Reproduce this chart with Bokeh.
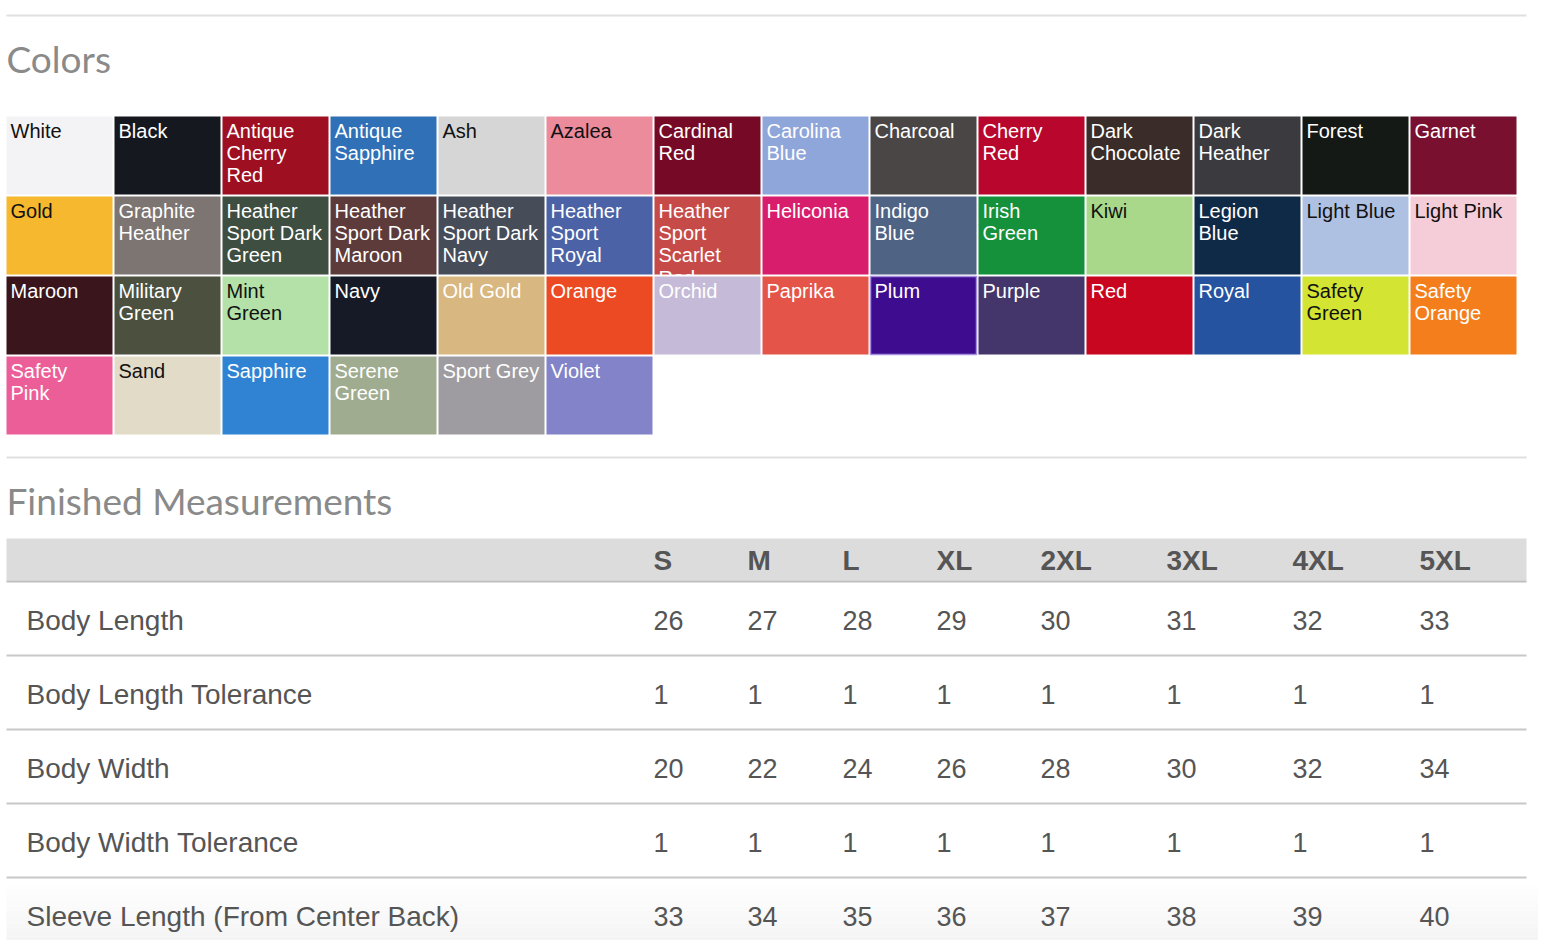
from bokeh.plotting import figure
from bokeh.models import Range1d, ColumnDataSource
from bokeh.core.properties import value
from bokeh.embed import file_html
from bokeh.resources import INLINE

# ---------------- data ----------------
color_labels = [
    "White", "Black", "Antique\nCherry\nRed", "Antique\nSapphire", "Ash", "Azalea",
    "Cardinal\nRed", "Carolina\nBlue", "Charcoal", "Cherry\nRed", "Dark\nChocolate",
    "Dark\nHeather", "Forest", "Garnet",
    "Gold", "Graphite\nHeather", "Heather\nSport Dark\nGreen", "Heather\nSport Dark\nMaroon",
    "Heather\nSport Dark\nNavy", "Heather\nSport\nRoyal", "Heather\nSport\nScarlet\nRed",
    "Heliconia", "Indigo\nBlue", "Irish\nGreen", "Kiwi", "Legion\nBlue", "Light Blue", "Light Pink",
    "Maroon", "Military\nGreen", "Mint\nGreen", "Navy", "Old Gold", "Orange", "Orchid",
    "Paprika", "Plum", "Purple", "Red", "Royal", "Safety\nGreen", "Safety\nOrange",
    "Safety\nPink", "Sand", "Sapphire", "Serene\nGreen", "Sport Grey", "Violet",
]
color_hex = [
    "#f3f3f5", "#15181f", "#9e0f22", "#2f70b6", "#d6d6d6", "#ec8b9c",
    "#760a26", "#8fa6da", "#4a4646", "#b8062c", "#3a2c28",
    "#3b3b3f", "#141916", "#7a1030",
    "#f6b82e", "#7c7572", "#3e4e40", "#5d3b3a",
    "#474c59", "#4b62a6", "#c64b48",
    "#d81d6d", "#4f6385", "#15903b", "#a9d88b", "#0f2a47", "#afc1e2", "#f5cdd8",
    "#3a151c", "#4c513f", "#b3e1a7", "#161a27", "#d8b780", "#ec4a23", "#c5bbd8",
    "#e45448", "#3e0c8e", "#44366a", "#c8061f", "#2553a0", "#d3e433", "#f47e1c",
    "#ec5e98", "#e2dbc8", "#2f83d2", "#a0ac90", "#9e9ca0", "#8283c8",
]
dark_text = [
    "White", "Ash", "Azalea", "Gold", "Kiwi", "Light Blue", "Light Pink",
    "Mint\nGreen", "Safety\nGreen", "Sand",
]

sizes = ["S", "M", "L", "XL", "2XL", "3XL", "4XL", "5XL"]
measure_names = ["Body Length", "Body Length Tolerance", "Body Width",
                 "Body Width Tolerance", "Sleeve Length (From Center Back)"]
body_length = [26, 27, 28, 29, 30, 31, 32, 33]
body_length_tol = [1, 1, 1, 1, 1, 1, 1, 1]
body_width = [20, 22, 24, 26, 28, 30, 32, 34]
body_width_tol = [1, 1, 1, 1, 1, 1, 1, 1]
sleeve_length = [33, 34, 35, 36, 37, 38, 39, 40]
measure_values = [body_length, body_length_tol, body_width, body_width_tol, sleeve_length]

# ---------------- layout ----------------
W, H = 1538, 940
p = figure(width=W, height=H, x_range=Range1d(0, W), y_range=Range1d(H, 0),
           output_backend="svg", toolbar_location=None, min_border=0)
p.axis.visible = False
p.grid.visible = False
p.outline_line_color = None
p.background_fill_color = "white"
p.border_fill_color = "white"

LEFT, RIGHT = 6, 1526
GRAY_TITLE = "#8a8a8a"
TXT = "#555555"

# bottom fade
nb = 14
fade_top, fade_bot = 880, H
bh = (fade_bot - fade_top) / nb
fade_cols = []
for i in range(nb):
    g = 255 - int(11 * (i + 1) / nb)
    fade_cols.append("#%02x%02x%02x" % (g, g, g))
p.quad(left=[LEFT] * nb, right=[W] * nb,
       top=[fade_top + i * bh for i in range(nb)],
       bottom=[fade_top + (i + 1) * bh for i in range(nb)],
       fill_color=fade_cols, line_color=None)

# separators and titles
p.segment(x0=[LEFT, LEFT], x1=[RIGHT, RIGHT], y0=[15, 457], y1=[15, 457],
          line_color="#e0e0e0", line_width=2)
p.text(x=[6, 6], y=[58, 500], text=["Colors", "Finished Measurements"],
       text_font=value("Lato"), text_font_size="37px", text_color=GRAY_TITLE,
       text_baseline="middle", text_align="left")

# swatches
NCOL = 14
PITCH_X, PITCH_Y = 108, 80
SW, SH = 106, 78
GX, GY = 6, 116
n = len(color_labels)
cols = [i % NCOL for i in range(n)]
rows = [i // NCOL for i in range(n)]
for r in sorted(set(rows)):
    idx = [i for i in range(n) if rows[i] == r]
    src = ColumnDataSource(dict(
        left=[GX + cols[i] * PITCH_X for i in idx],
        right=[GX + cols[i] * PITCH_X + SW for i in idx],
        top=[GY + r * PITCH_Y for i in idx],
        bottom=[GY + r * PITCH_Y + SH for i in idx],
        color=[color_hex[i] for i in idx],
        border=["#a68fe0" if color_labels[i] == "Plum" else "rgba(0,0,0,0)" for i in idx],
        label=[color_labels[i] for i in idx],
        tx=[GX + cols[i] * PITCH_X + 4 for i in idx],
        ty=[GY + r * PITCH_Y + 3 for i in idx],
        tc=["#111111" if color_labels[i] in dark_text else "#ffffff" for i in idx],
    ))
    p.quad(left="left", right="right", top="top", bottom="bottom", fill_color="color",
           line_color="border", line_width=1.5, source=src)
    p.text(x="tx", y="ty", text="label", text_color="tc", source=src,
           text_font=value("Liberation Sans"), text_font_size="20px",
           text_baseline="top", text_align="left", text_line_height=1.02)

# table header
p.quad(left=[LEFT], right=[RIGHT], top=[538], bottom=[580], fill_color="#dcdcdc", line_color=None)
p.segment(x0=[LEFT], x1=[RIGHT], y0=[581], y1=[581], line_color="#bdbdbd", line_width=2)
col_x = [653, 747, 842, 936, 1040, 1166, 1292, 1419]
p.text(x=col_x, y=[560] * len(sizes), text=sizes, text_font=value("Liberation Sans"),
       text_font_style="bold", text_font_size="28px", text_color="#555555",
       text_baseline="middle", text_align="left")

# table rows
ROW_Y0, ROW_PITCH = 620, 74
row_y = [ROW_Y0 + k * ROW_PITCH for k in range(len(measure_names))]
line_y = [y + 35 for y in row_y[:-1]]
p.segment(x0=[LEFT] * len(line_y), x1=[RIGHT] * len(line_y), y0=line_y, y1=line_y,
          line_color="#c8c8c8", line_width=2)
p.text(x=[26] * len(measure_names), y=row_y, text=measure_names,
       text_font=value("Liberation Sans"), text_font_size="28px", text_color=TXT,
       text_baseline="middle", text_align="left")
vx, vy, vt = [], [], []
for k, vals in enumerate(measure_values):
    for j, v in enumerate(vals):
        vx.append(col_x[j])
        vy.append(row_y[k])
        vt.append(str(v))
p.text(x=vx, y=vy, text=vt, text_font=value("Liberation Sans"), text_font_size="27px",
       text_color=TXT, text_baseline="middle", text_align="left")

open("out.html", "w").write(file_html(p, INLINE))
